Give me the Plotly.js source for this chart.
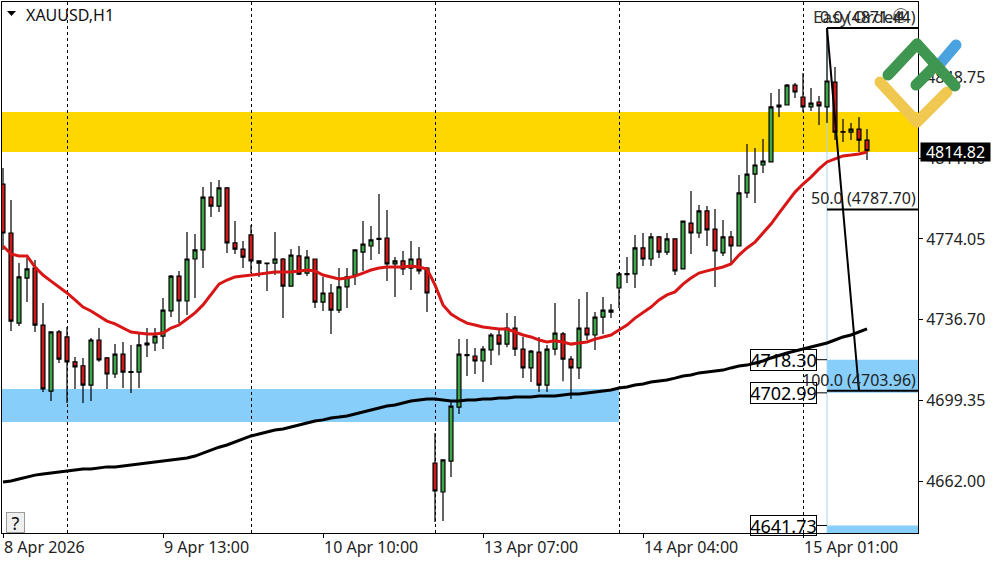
<!DOCTYPE html>
<html><head><meta charset="utf-8">
<script src="https://cdn.plot.ly/plotly-3.0.1.min.js"></script>
<style>html,body{margin:0;padding:0;background:#fff}#c{width:1000px;height:562px}
path[style*="stroke-width: 11px"]{stroke-linecap:round}</style>
</head><body><div id="c"></div>
<script>
const symbol = "XAUUSD,H1";
const opens = [4799.4,4776.8,4735.2,4756.0,4760.6,4734.3,4703.8,4731.1,4728.8,4717.3,4715.5,4706.6,4727.4,4719.1,4711.7,4720.9,4712.8,4712.6,4725.1,4726.0,4729.2,4740.8,4756.9,4745.4,4764.8,4769.0,4793.4,4789.2,4797.6,4772.2,4769.4,4775.9,4763.9,4762.9,4762.9,4764.8,4752.3,4766.2,4758.3,4764.8,4744.9,4749.1,4741.2,4751.9,4757.4,4768.0,4770.8,4774.3,4774.5,4762.5,4763.9,4760.6,4764.8,4760.6,4670.6,4657.2,4671.5,4696.4,4720.7,4720.0,4717.7,4722.8,4729.7,4725.5,4732.9,4723.2,4714.5,4721.8,4706.6,4723.2,4730.2,4718.6,4714.5,4732.9,4729.7,4738.0,4741.2,4751.4,4758.1,4757.9,4769.9,4764.8,4775.0,4768.0,4774.1,4760.2,4781.4,4776.8,4787.0,4778.6,4767.6,4775.0,4770.8,4795.3,4804.0,4808.2,4809.6,4835.0,4835.9,4845.1,4839.6,4835.0,4837.3,4835.0,4846.5,4823.6,4823.4,4824.8,4819.7];
const highs = [4806.8,4792.0,4762.9,4765.2,4764.3,4744.5,4731.1,4732.0,4733.4,4719.5,4719.1,4728.3,4732.9,4719.5,4725.5,4726.5,4725.1,4731.1,4732.9,4732.9,4746.8,4757.4,4759.2,4777.3,4776.3,4798.0,4800.4,4801.3,4798.0,4782.3,4773.1,4780.5,4764.1,4763.2,4777.3,4765.2,4769.4,4770.8,4769.0,4765.0,4756.5,4753.2,4760.6,4760.6,4769.2,4782.3,4780.0,4794.8,4787.4,4765.7,4768.5,4773.1,4770.3,4761.1,4684.4,4672.2,4698.8,4727.8,4727.8,4723.7,4724.6,4730.6,4732.0,4739.9,4738.5,4728.8,4722.8,4728.8,4725.1,4744.5,4731.1,4720.0,4746.3,4749.6,4740.3,4747.3,4744.0,4758.8,4765.7,4775.9,4776.8,4776.8,4775.4,4776.8,4774.3,4782.6,4796.2,4789.7,4789.3,4787.9,4782.8,4777.7,4803.6,4817.9,4816.0,4820.2,4841.4,4843.3,4845.6,4846.1,4850.7,4843.8,4840.1,4871.44,4853.5,4829.4,4827.6,4830.4,4824.8];
const lows = [4769.0,4731.5,4733.8,4744.9,4731.1,4703.4,4699.2,4716.8,4698.3,4704.8,4698.3,4699.2,4717.3,4704.8,4709.8,4705.2,4702.9,4705.2,4719.5,4722.3,4723.2,4738.0,4735.2,4738.9,4746.8,4760.6,4784.2,4786.5,4767.6,4767.1,4760.6,4758.3,4756.5,4750.0,4757.4,4737.5,4752.1,4757.4,4756.9,4742.2,4740.8,4730.2,4739.9,4742.2,4752.8,4759.3,4764.3,4767.1,4754.6,4747.3,4757.4,4750.5,4757.8,4740.3,4643.4,4643.8,4664.1,4693.2,4710.8,4711.7,4708.0,4715.9,4720.4,4724.1,4720.0,4709.8,4708.0,4703.4,4703.4,4720.4,4708.4,4700.2,4709.4,4727.4,4722.8,4730.2,4737.5,4742.2,4753.7,4751.4,4761.6,4761.6,4765.2,4766.6,4757.4,4759.9,4767.1,4774.5,4770.8,4751.9,4766.2,4762.9,4770.6,4793.0,4790.6,4804.5,4809.4,4830.4,4835.7,4839.1,4832.7,4833.1,4826.7,4827.6,4819.7,4818.8,4819.7,4814.2,4810.5];
const closes = [4776.8,4736.1,4756.5,4760.2,4734.3,4704.8,4731.1,4718.6,4717.3,4715.0,4706.6,4727.4,4718.2,4711.7,4720.9,4712.6,4712.4,4725.1,4726.0,4729.2,4741.2,4756.9,4745.4,4764.8,4769.0,4793.4,4789.2,4797.6,4772.2,4769.4,4765.7,4763.9,4762.9,4762.7,4764.8,4752.3,4766.6,4757.8,4765.7,4744.9,4749.1,4741.2,4751.9,4756.5,4769.0,4771.7,4773.6,4773.8,4762.5,4763.9,4760.2,4764.8,4759.3,4749.1,4657.7,4672.0,4696.9,4720.9,4720.2,4717.7,4723.2,4729.7,4725.5,4732.9,4723.2,4714.5,4722.3,4706.6,4723.2,4730.6,4718.6,4714.5,4732.9,4729.7,4738.0,4741.2,4740.3,4757.9,4757.6,4769.9,4764.8,4775.0,4768.0,4774.1,4759.3,4782.3,4776.8,4787.0,4778.2,4768.5,4775.0,4770.8,4795.3,4804.0,4808.2,4810.0,4835.0,4835.9,4845.1,4841.9,4835.0,4836.8,4835.5,4847.0,4823.4,4823.4,4824.8,4819.7,4814.82];
const redMA = [4770.8,4767.1,4766.2,4766.2,4761.1,4757.4,4754.6,4751.9,4749.1,4745.9,4742.6,4740.8,4738.5,4736.1,4734.8,4732.9,4731.1,4730.6,4730.2,4730.2,4730.6,4732.9,4734.3,4737.1,4739.9,4743.6,4748.2,4753.2,4755.1,4756.5,4756.9,4757.4,4757.8,4758.3,4758.8,4758.8,4758.8,4759.3,4759.7,4759.3,4757.4,4756.5,4755.6,4756.0,4756.9,4758.3,4759.7,4760.6,4761.1,4761.1,4761.1,4761.6,4761.1,4760.2,4752.8,4743.6,4739.4,4737.1,4735.2,4734.3,4733.4,4732.9,4732.5,4732.5,4731.1,4729.7,4728.8,4727.4,4726.5,4727.0,4726.5,4725.5,4726.0,4726.5,4727.8,4728.8,4729.7,4732.0,4734.3,4737.5,4739.9,4742.6,4745.9,4748.2,4749.6,4753.2,4756.0,4758.3,4759.3,4760.2,4761.1,4762.5,4766.6,4769.9,4772.6,4776.8,4780.9,4786.0,4791.1,4795.7,4799.4,4802.6,4806.4,4809.6,4811.0,4812.4,4812.8,4813.3,4814.2];
const blackMA = [4661.8,4662.3,4663.2,4664.1,4665.0,4665.5,4666.0,4666.4,4666.9,4667.4,4667.8,4667.8,4668.3,4668.8,4668.8,4669.2,4669.7,4670.1,4670.6,4671.1,4671.5,4672.0,4672.4,4672.9,4673.8,4675.2,4676.6,4677.9,4678.9,4680.3,4681.7,4683.1,4684.0,4684.9,4685.8,4686.3,4687.2,4688.1,4689.1,4690.0,4690.5,4691.4,4691.8,4692.3,4693.2,4694.1,4695.1,4696.0,4696.9,4697.4,4698.3,4699.2,4699.7,4700.2,4700.2,4699.7,4699.2,4699.2,4699.7,4699.7,4700.2,4700.2,4700.6,4700.6,4701.1,4701.1,4701.1,4701.5,4701.5,4701.5,4702.0,4702.5,4702.5,4702.9,4703.4,4703.8,4704.3,4705.2,4705.7,4706.6,4707.1,4708.0,4708.4,4708.9,4709.8,4710.8,4711.2,4712.2,4712.6,4713.1,4713.5,4714.5,4715.4,4715.8,4716.8,4717.7,4719.1,4720.4,4721.4,4722.3,4723.2,4724.1,4725.1,4726.0,4727.4,4728.8,4729.7,4731.1,4732.5];
const priceTicks = [4662.00,4699.35,4736.70,4774.05,4811.40,4848.75];
const timeTickBars = [0,20,40,60,80,100];
const timeTickLabels = ["8 Apr 2026","9 Apr 13:00","10 Apr 10:00","13 Apr 07:00","14 Apr 04:00","15 Apr 01:00"];
const sessionBars = [8,31,54,77,100];
const fibLevels = [4871.44,4787.70,4703.96];
const fibNames = ["0.0","50.0","100.0"];
const fibFromBar = 103, fibToBar = 107;
const boxLevels = [4718.30,4702.99,4641.73];
const yellowZone = [4814.2,4832.7];
const blueZone = [4689.5,4704.8];
const blueZoneEndBar = 77;
const lastPrice = 4814.82;

const FONT = "Noto Sans, DejaVu Sans, sans-serif";
const bars = opens.map((_, i) => i);
const PL = 2, PR = 918, PT = 2, PB = 533;
const px = x => (x - PL) / (PR - PL), py = y => (PB - y) / (PB - PT);
const ln = (x0,y0,x1,y1,color,w) => ({type:'line',xref:'paper',yref:'paper',x0:px(x0),y0:py(y0),x1:px(x1),y1:py(y1),layer:'above',line:{color,width:w}});

const shapes = [
  {type:'rect',xref:'paper',yref:'y',x0:0,x1:1,y0:yellowZone[0],y1:yellowZone[1],fillcolor:'#FFD700',line:{width:0},layer:'below'},
  {type:'rect',xref:'paper',yref:'y',x0:0,x1:(blueZoneEndBar+0.125)/114.5,y0:blueZone[0],y1:blueZone[1],fillcolor:'#87CEFA',line:{width:0},layer:'below'},
  {type:'rect',xref:'x',yref:'y',x0:fibFromBar,x1:114.375,y0:boxLevels[1],y1:boxLevels[0],fillcolor:'#87CEFA',line:{width:0},layer:'below'},
  {type:'rect',xref:'x',yref:'y',x0:fibFromBar,x1:114.375,y0:4638.3,y1:boxLevels[2],fillcolor:'#87CEFA',line:{width:0},layer:'below'},
  {type:'line',xref:'x',yref:'y',x0:fibFromBar,x1:fibFromBar,y0:4638.3,y1:fibLevels[0],line:{color:'#a9d4ef',width:1},layer:'below'},
];
fibLevels.forEach(l => shapes.push({type:'line',xref:'x',yref:'y',x0:fibFromBar,x1:114.375,y0:l,y1:l,line:{color:'#000',width:2},layer:'above'}));
shapes.push({type:'line',xref:'x',yref:'y',x0:fibFromBar,x1:fibToBar,y0:fibLevels[0],y1:fibLevels[2],line:{color:'#000',width:2},layer:'above'});
boxLevels.forEach(l => shapes.push({type:'line',xref:'x',yref:'y',x0:101.75,x1:fibFromBar,y0:l,y1:l,line:{color:'#000',width:1},layer:'above'}));
// menu triangle
shapes.push({type:'path',xref:'paper',yref:'paper',path:`M ${px(7)} ${py(11)} L ${px(16)} ${py(11)} L ${px(11.5)} ${py(16)} Z`,fillcolor:'#000',line:{width:0},layer:'above'});
// logo
shapes.push(ln(939,65,956,45,'#4aa3df',11));
shapes.push(ln(880,82,917,122,'#f0c850',11));
shapes.push(ln(917,122,947,92,'#f0c850',11));
shapes.push(ln(888,75,917,44,'#3f9650',11));
shapes.push(ln(917,44,955,86,'#3f9650',11));
shapes.push(ln(916,85,933,68,'#3f9650',11));

const ann = [];
const T = (o) => ann.push(Object.assign({showarrow:false,font:{family:FONT,size:16,color:'#222'}},o));
T({xref:'paper',yref:'paper',x:px(24),y:py(15),xanchor:'left',yanchor:'middle',text:symbol,font:{family:FONT,size:16,color:'#111'}});
T({xref:'paper',yref:'paper',x:px(811),y:py(16),xanchor:'left',yanchor:'middle',text:'Easy Order',font:{family:FONT,size:17,color:'#333'}});
T({xref:'paper',yref:'paper',x:px(901),y:py(16),xanchor:'center',yanchor:'middle',text:'④',font:{family:'DejaVu Sans',size:20,color:'#333'}});
fibLevels.forEach((l,i) => T({xref:'paper',yref:'y',x:px(918),y:l,xanchor:'right',yanchor:'bottom',yshift:-2,text:`${fibNames[i]} (${l.toFixed(2)})`,font:{family:FONT,size:16,color:'#222'}}));
boxLevels.forEach((l,i) => T({xref:'paper',yref:'y',x:px(817),y:l,xanchor:'right',yanchor:'middle',text:l.toFixed(2),bordercolor:'#000',borderwidth:1,borderpad:0,font:{family:FONT,size:18,color:'#000'},width:65,height:i==2?19:20,align:'center'}));
T({xref:'paper',yref:'y',x:1.002,y:lastPrice,xanchor:'left',yanchor:'middle',yshift:-1,text:lastPrice.toFixed(2),bgcolor:'#000',width:69,height:18,borderpad:0,align:'center',font:{family:FONT,size:16,color:'#fff'}});
T({xref:'paper',yref:'paper',x:px(6),y:py(533),xanchor:'left',yanchor:'bottom',text:'?',bgcolor:'#efefef',bordercolor:'#9a9a9a',borderwidth:1,borderpad:0,width:17,height:19,align:'center',font:{family:FONT,size:18,color:'#111'}});

const data = [
 {type:'candlestick',x:bars,open:opens,high:highs,low:lows,close:closes,whiskerwidth:0,hoverinfo:'skip',
  increasing:{line:{color:'#000',width:1.2},fillcolor:'#3ca648'},
  decreasing:{line:{color:'#000',width:1.2},fillcolor:'#cc1a1a'}},
 {type:'scatter',mode:'lines',x:bars,y:blackMA,line:{color:'#000',width:3},hoverinfo:'skip'},
 {type:'scatter',mode:'lines',x:bars,y:redMA,line:{color:'#d81616',width:3},hoverinfo:'skip'},
];
const layout = {
  width:1000,height:562,showlegend:false,paper_bgcolor:'#fff',plot_bgcolor:'#fff',
  margin:{l:PL,r:1000-PR,t:PT,b:562-PB,pad:0},boxgap:0.3,
  font:{family:FONT,size:16,color:'#222'},
  xaxis:{range:[-0.125,114.375],type:'linear',rangeslider:{visible:false},showline:true,mirror:true,linecolor:'#000',linewidth:1,
    tickmode:'array',tickvals:timeTickBars,ticktext:timeTickLabels,ticks:'outside',ticklen:4,tickcolor:'#000',ticklabelposition:'outside right',
    tickfont:{family:FONT,size:16,color:'#222'},showgrid:false,zeroline:false,
    minor:{tickmode:'array',tickvals:sessionBars,ticks:'',showgrid:true,gridcolor:'#000',griddash:'3px,3px',gridwidth:1}},
  yaxis:{range:[4638.27,4883.47],side:'right',showline:true,mirror:true,linecolor:'#000',linewidth:1,
    tickmode:'array',tickvals:priceTicks,ticktext:priceTicks.map(v=>v.toFixed(2)),ticks:'outside',ticklen:4,tickcolor:'#000',
    tickfont:{family:FONT,size:16,color:'#222'},showgrid:false,zeroline:false},
  shapes,annotations:ann
};
Plotly.newPlot('c',data,layout,{displayModeBar:false,staticPlot:true});
</script></body></html>
